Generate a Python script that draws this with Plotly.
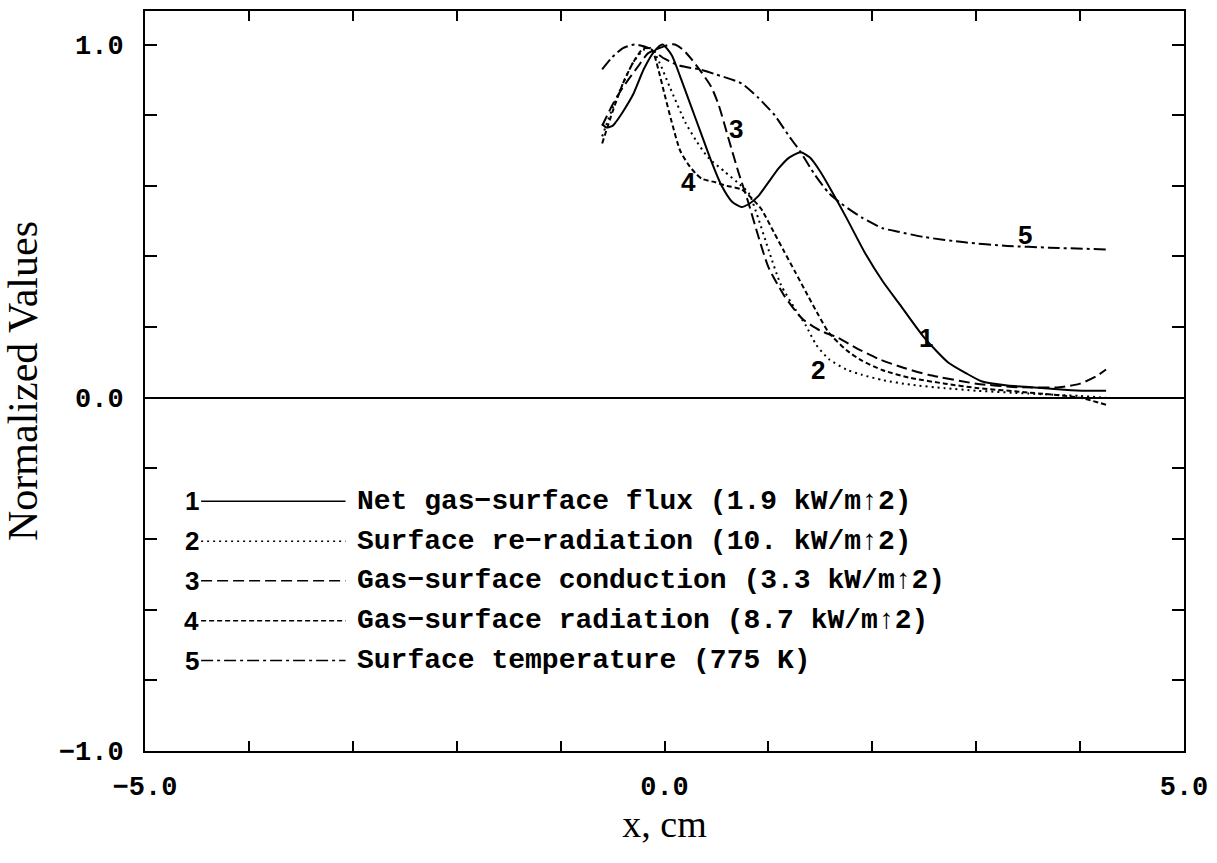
import plotly.graph_objects as go

# ---- data ----
x1 = [-0.6, -0.56, -0.5, -0.47, -0.4, -0.3, -0.2, -0.1, -0.02, 0.07, 0.15, 0.25, 0.35, 0.45, 0.55, 0.65,
      0.74, 0.82, 0.9, 1.0, 1.1, 1.2, 1.31, 1.4, 1.5, 1.6, 1.75, 1.93, 2.1, 2.25, 2.5, 2.73, 2.9, 3.05, 3.3,
      3.53, 3.85, 4.05, 4.25]
y1 = [0.775, 0.765, 0.77, 0.78, 0.81, 0.86, 0.93, 0.98, 1.0, 0.97, 0.91, 0.83, 0.75, 0.67, 0.60, 0.555,
      0.54, 0.55, 0.57, 0.61, 0.65, 0.68, 0.695, 0.68, 0.64, 0.59, 0.51, 0.41, 0.33, 0.27, 0.17, 0.10, 0.07,
      0.047, 0.035, 0.03, 0.023, 0.02, 0.02]

x2 = [-0.6, -0.5, -0.4, -0.3, -0.2, -0.13, -0.05, 0.05, 0.2, 0.3, 0.42, 0.58, 0.7, 0.81, 0.9, 1.0, 1.12,
      1.26, 1.36, 1.46, 1.58, 1.75, 1.9, 2.1, 2.37, 2.7, 3.0, 3.5, 4.0, 4.25]
y2 = [0.74, 0.82, 0.89, 0.95, 0.985, 0.99, 0.95, 0.88, 0.78, 0.73, 0.68, 0.64, 0.61, 0.58, 0.51, 0.42, 0.32,
      0.25, 0.205, 0.15, 0.11, 0.08, 0.065, 0.05, 0.037, 0.027, 0.02, 0.012, 0.005, 0.0]

x3 = [-0.6, -0.5, -0.42, -0.35, -0.25, -0.16, -0.05, 0.05, 0.1, 0.18, 0.27, 0.36, 0.45, 0.52, 0.62, 0.71,
      0.81, 0.9, 1.0, 1.15, 1.29, 1.34, 1.5, 1.67, 1.85, 2.06, 2.3, 2.54, 3.0, 3.4, 3.8, 4.0, 4.15, 4.25]
y3 = [0.77, 0.83, 0.87, 0.90, 0.94, 0.975, 0.99, 1.0, 1.0, 0.985, 0.955, 0.92, 0.88, 0.83, 0.73, 0.64,
      0.55, 0.46, 0.37, 0.29, 0.235, 0.22, 0.19, 0.17, 0.14, 0.11, 0.085, 0.065, 0.04, 0.03, 0.03, 0.04,
      0.06, 0.08]

x4 = [-0.6, -0.5, -0.4, -0.3, -0.2, -0.12, -0.06, 0.0, 0.07, 0.15, 0.23, 0.3, 0.36, 0.49, 0.6, 0.74, 0.84,
      0.93, 1.05, 1.15, 1.26, 1.36, 1.48, 1.58, 1.75, 1.9, 2.1, 2.37, 2.7, 3.0, 3.5, 4.0, 4.25]
y4 = [0.72, 0.81, 0.89, 0.95, 0.99, 0.985, 0.93, 0.86, 0.78, 0.70, 0.66, 0.635, 0.62, 0.61, 0.60, 0.59,
      0.565, 0.535, 0.47, 0.415, 0.355, 0.30, 0.235, 0.185, 0.135, 0.105, 0.078, 0.056, 0.04, 0.028, 0.015,
      0.0, -0.02]

x5 = [-0.6, -0.5, -0.4, -0.29, -0.15, 0.0, 0.15, 0.33, 0.5, 0.74, 0.9, 1.06, 1.2, 1.3, 1.45, 1.58, 1.7,
      1.9, 2.1, 2.25, 2.5, 2.89, 3.3, 3.7, 4.25]
y5 = [0.93, 0.965, 0.99, 1.0, 0.99, 0.96, 0.94, 0.93, 0.915, 0.89, 0.85, 0.80, 0.74, 0.70, 0.63, 0.58,
      0.55, 0.51, 0.48, 0.47, 0.455, 0.44, 0.43, 0.425, 0.42]

series_ids = ["1", "2", "3", "4", "5"]
legend_texts = [
    "Net gas\u2212surface flux (1.9 kW/m\u21912)",
    "Surface re\u2212radiation (10. kW/m\u21912)",
    "Gas\u2212surface conduction (3.3 kW/m\u21912)",
    "Gas\u2212surface radiation (8.7 kW/m\u21912)",
    "Surface temperature (775 K)",
]
curve_label_x = [2.52, 1.48, 0.69, 0.23, 3.47]
curve_label_y = [0.17, 0.08, 0.76, 0.61, 0.46]

x_tickvals = [-5, -4, -3, -2, -1, 0, 1, 2, 3, 4, 5]
x_ticktext = ["\u22125.0", "", "", "", "", "0.0", "", "", "", "", "5.0"]
y_tickvals = [-1.0, -0.8, -0.6, -0.4, -0.2, 0.0, 0.2, 0.4, 0.6, 0.8, 1.0]
y_ticktext = ["\u22121.0", "", "", "", "", "0.0", "", "", "", "", "1.0"]

# ---- styles ----
dashes = ["solid", "2px,4px", "11px,5px", "5px,3px", "12px,4px,3px,4px"]
xs = [x1, x2, x3, x4, x5]
ys = [y1, y2, y3, y4, y5]

fig = go.Figure()
for sx, sy, d in zip(xs, ys, dashes):
    fig.add_trace(go.Scatter(x=sx, y=sy, mode="lines",
                             line=dict(color="black", width=2, dash=d, shape="spline", smoothing=0.6),
                             showlegend=False, hoverinfo="skip"))

label_font = dict(family="Liberation Sans, Arial, sans-serif", size=26, color="black", weight="bold")
for sid, lx, ly in zip(series_ids, curve_label_x, curve_label_y):
    fig.add_annotation(x=lx, y=ly, text=sid, showarrow=False, font=label_font,
                       xanchor="center", yanchor="middle")

# legend block (data coordinates inside the plot)
leg_y = [-0.293, -0.406, -0.518, -0.631, -0.744]
for sid, txt, d, ly in zip(series_ids, legend_texts, dashes, leg_y):
    fig.add_annotation(x=-4.55, y=ly, text=sid, showarrow=False, font=label_font,
                       xanchor="center", yanchor="middle")
    fig.add_shape(type="line", x0=-4.46, x1=-3.07, y0=ly, y1=ly,
                  line=dict(color="black", width=1.5, dash=d))
    fig.add_annotation(x=-2.98, y=ly, text=txt, showarrow=False,
                       font=dict(family="Liberation Mono, Courier New, monospace", size=28,
                                 color="black", weight="bold"),
                       xanchor="left", yanchor="middle")

tick_font = dict(family="Liberation Mono, Courier New, monospace", size=27, color="black", weight="bold")
title_font = dict(family="Liberation Serif, Times New Roman, serif", size=42, color="black")

fig.update_layout(
    width=1217, height=863,
    margin=dict(l=144, r=30, t=9, b=112),
    paper_bgcolor="white", plot_bgcolor="white",
    xaxis=dict(range=[-5, 5], tickvals=x_tickvals, ticktext=x_ticktext,
               ticks="inside", ticklen=10, tickwidth=1.5, tickcolor="black",
               showline=True, linewidth=2, linecolor="black", mirror="ticks",
               showgrid=False, zeroline=False, tickfont=tick_font, ticklabelstandoff=10,
               title=dict(text="x, cm", font=dict(family="Liberation Serif, Times New Roman, serif",
                                                   size=38, color="black"), standoff=4)),
    yaxis=dict(range=[-1.0, 1.095], tickvals=y_tickvals, ticktext=y_ticktext,
               ticks="inside", ticklen=12, tickwidth=1.5, tickcolor="black",
               showline=True, linewidth=2, linecolor="black", mirror="ticks",
               showgrid=False, zeroline=True, zerolinecolor="black", zerolinewidth=2,
               tickfont=tick_font, ticklabelstandoff=14,
               title=dict(text="Normalized Values", font=title_font, standoff=20)),
)

fig.write_html("out.html")
